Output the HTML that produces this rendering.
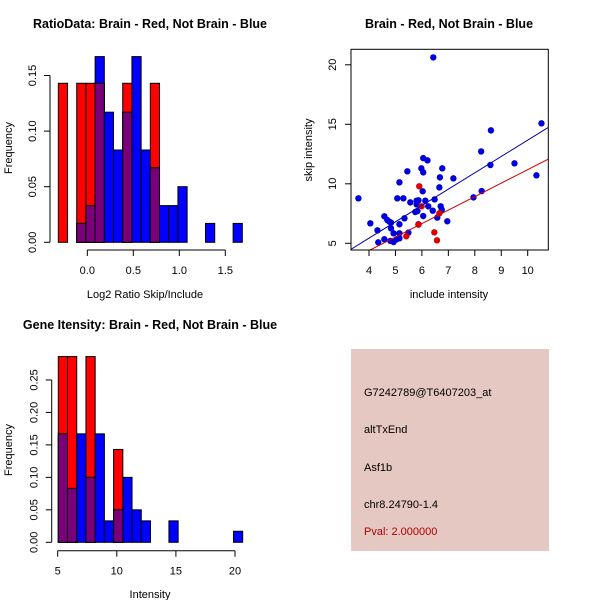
<!DOCTYPE html>
<html><head><meta charset="utf-8"><style>
body{margin:0;background:#fff}
svg{display:block;font-family:"Liberation Sans",sans-serif}
</style></head><body>
<svg id="c" width="600" height="600" xmlns="http://www.w3.org/2000/svg">
<rect width="600" height="600" fill="#fff"/>
<g id="p1"></g>
<g id="p2"></g>
<g id="p3"></g>
<g>
<rect x="351" y="349" width="198" height="202" fill="#e5c8c2"/>
<text x="364" y="396" font-size="11">G7242789@T6407203_at</text>
<text x="364" y="433" font-size="11">altTxEnd</text>
<text x="364" y="471" font-size="11">Asf1b</text>
<text x="364" y="508" font-size="11">chr8.24790-1.4</text>
<text x="364" y="535" font-size="11" fill="#b00000">Pval: 2.000000</text>
</g>
</svg>
<script>
// Ratio histogram data
const ratioStart = -0.315, ratioWidth = 0.1;
const ratioBlue = [0,0,0.017,0.033,0.167,0.117,0.083,0.117,0.167,0.083,0.067,0.033,0.033,0.05,0,0,0.017,0,0,0.017];
const ratioRed  = [0.143,0,0.143,0.143,0.143,0,0,0.143,0,0,0.143,0,0,0,0,0,0,0,0,0];
const ratioXTicks = [0.0,0.5,1.0,1.5];
const ratioYTicks = [0.00,0.05,0.10,0.15];
// Gene intensity histogram data
const intStart = 5.05, intWidth = 0.78;
const intBlue = [0.167,0.083,0.167,0.1,0.167,0.033,0.05,0.1,0.05,0.033,0,0,0.033,0,0,0,0,0,0,0.017];
const intRed  = [0.286,0.286,0,0.286,0,0,0.143,0,0,0,0,0,0,0,0,0,0,0,0,0];
const intXTicks = [5,10,15,20];
const intYTicks = [0.00,0.05,0.10,0.15,0.20,0.25];
// Scatter data
const blueX = [3.60,4.05,4.32,4.35,4.58,4.58,4.69,4.77,4.83,4.83,4.81,4.93,4.93,5.05,5.07,5.15,5.15,5.15,5.15,5.30,5.34,5.45,5.49,5.56,5.75,5.80,5.80,5.83,5.87,5.87,5.98,6.03,6.05,6.05,6.05,6.13,6.21,6.24,6.41,6.43,6.48,6.58,6.66,6.68,6.71,6.75,6.77,6.96,7.19,7.95,8.24,8.26,8.59,8.61,9.50,10.33,10.52];
const blueY = [8.78,6.68,6.09,5.08,7.27,5.34,6.96,6.82,6.74,6.26,5.20,5.84,5.11,5.34,8.78,10.12,6.60,5.84,5.42,8.78,7.10,11.05,5.90,8.44,7.63,8.58,8.27,7.71,8.61,6.60,11.30,9.37,12.16,10.96,7.29,8.58,11.97,8.11,7.74,20.62,8.69,7.16,9.70,10.54,8.11,7.83,11.30,6.85,10.46,8.86,12.72,9.39,11.58,14.49,11.72,10.71,15.08];
const redX = [5.90,5.99,5.87,5.41,6.47,6.57,6.66];
const redY = [9.79,8.11,6.57,5.59,5.92,5.25,7.52];
const blueFit = [-0.06,1.373]; // intercept, slope
const redFit = [-0.14,1.133];
const scXTicks = [4,5,6,7,8,9,10];
const scYTicks = [5,10,15,20];

const NS="http://www.w3.org/2000/svg";
function mk(parent,tag,attrs,text){const e=document.createElementNS(NS,tag);for(const k in attrs)e.setAttribute(k,attrs[k]);if(text!==undefined)e.textContent=text;parent.appendChild(e);return e;}

function histogram(g,o){
  const sx=v=>o.x0+(v-o.v0)*o.kx, sy=v=>o.y0-v*o.ky;
  for(let i=0;i<o.blue.length;i++){
    const a=o.start+i*o.width,b=a+o.width,r=o.red[i],bl=o.blue[i];
    const x=sx(a),w=sx(b)-sx(a);
    if(r>0){const e=mk(g,'rect',{x:x,y:sy(r),width:w,height:sy(0)-sy(r),fill:'#ff0000',stroke:'#000','stroke-width':1});
      
      }
    if(bl>0){const e=mk(g,'rect',{x:x,y:sy(bl),width:w,height:sy(0)-sy(bl),fill:'#0000ff',stroke:'#000','stroke-width':1});
      
      }
    const m=Math.min(r,bl);
    if(m>0){const e=mk(g,'rect',{x:x,y:sy(m),width:w,height:sy(0)-sy(m),fill:'#7a007a',stroke:'#000','stroke-width':1});
      
      }
  }
  const yt=o.yTicks;
  mk(g,'line',{x1:o.yAxisX,x2:o.yAxisX,y1:sy(yt[0]),y2:sy(yt[yt.length-1]),stroke:'#000'});
  yt.forEach(t=>{mk(g,'line',{x1:o.yAxisX-6,x2:o.yAxisX,y1:sy(t),y2:sy(t),stroke:'#000'});
    const e=mk(g,'text',{x:o.yAxisX-14,y:sy(t),'font-size':11,'text-anchor':'middle',transform:`rotate(-90 ${o.yAxisX-14} ${sy(t)})`},t.toFixed(2));
    
    });
  const xt=o.xTicks;
  mk(g,'line',{x1:sx(xt[0]),x2:sx(xt[xt.length-1]),y1:o.xAxisY,y2:o.xAxisY,stroke:'#000'});
  xt.forEach(t=>{mk(g,'line',{x1:sx(t),x2:sx(t),y1:o.xAxisY,y2:o.xAxisY+6,stroke:'#000'});
    const e=mk(g,'text',{x:sx(t),y:o.xAxisY+24,'font-size':11,'text-anchor':'middle'},o.fmt(t));
    
    });
  let e=mk(g,'text',{x:o.tx,y:o.ty,'font-size':12.5,'font-weight':'bold','text-anchor':'middle'},o.title);
  
  
  e=mk(g,'text',{x:o.xlx,y:o.xly,'font-size':11,'text-anchor':'middle'},o.xlab);
  
  
  e=mk(g,'text',{x:12,y:o.yly,'font-size':11,'text-anchor':'middle',transform:`rotate(-90 12 ${o.yly})`},'Frequency');
  
  
}

histogram(document.getElementById('p1'),{start:ratioStart,width:ratioWidth,blue:ratioBlue,red:ratioRed,
  x0:87.3,v0:0,kx:92,y0:242.3,ky:1112,yAxisX:50,xAxisY:250,xTicks:ratioXTicks,yTicks:ratioYTicks,
  fmt:t=>t.toFixed(1),title:'RatioData: Brain - Red, Not Brain - Blue',tx:150,ty:28,xlab:'Log2 Ratio Skip/Include',xlx:145,xly:298,yly:148});
histogram(document.getElementById('p3'),{start:intStart,width:intWidth,blue:intBlue,red:intRed,
  x0:57.7,v0:5,kx:11.82,y0:542.3,ky:649.4,yAxisX:51.7,xAxisY:550.7,xTicks:intXTicks,yTicks:intYTicks,
  fmt:t=>String(t),title:'Gene Itensity: Brain - Red, Not Brain - Blue',tx:150,ty:329,xlab:'Intensity',xlx:150,xly:598,yly:450});

(function(){
  const g=document.getElementById('p2');
  const L=351,R=548.3,T=49.3,B=250;
  const sx=v=>369+(v-4)*26.45, sy=v=>243.3-(v-5)*11.9;
  const cp=mk(g,'clipPath',{id:'scclip'});mk(cp,'rect',{x:L,y:T,width:R-L,height:B-T});
  blueX.forEach((x,i)=>{const e=mk(g,'circle',{cx:sx(x),cy:sy(blueY[i]),r:3.2,fill:'#0000dd'});
    
    });
  redX.forEach((x,i)=>{const e=mk(g,'circle',{cx:sx(x),cy:sy(redY[i]),r:3.2,fill:'#dd0000'});
    
    });
  const xa=3.3,xb=10.8;
  let e=mk(g,'line',{x1:sx(xa),y1:sy(blueFit[0]+blueFit[1]*xa),x2:sx(xb),y2:sy(blueFit[0]+blueFit[1]*xb),stroke:'#0000aa','clip-path':'url(#scclip)'});
  
  
  e=mk(g,'line',{x1:sx(xa),y1:sy(redFit[0]+redFit[1]*xa),x2:sx(xb),y2:sy(redFit[0]+redFit[1]*xb),stroke:'#cc0000','clip-path':'url(#scclip)'});
  
  
  mk(g,'rect',{x:L,y:T,width:R-L,height:B-T,fill:'none',stroke:'#000'});
  scXTicks.forEach(t=>{mk(g,'line',{x1:sx(t),x2:sx(t),y1:B,y2:B+6,stroke:'#000'});
    const e=mk(g,'text',{x:sx(t),y:B+24,'font-size':11,'text-anchor':'middle'},String(t));
    
    });
  scYTicks.forEach(t=>{mk(g,'line',{x1:L-6,x2:L,y1:sy(t),y2:sy(t),stroke:'#000'});
    const e=mk(g,'text',{x:L-15,y:sy(t),'font-size':11,'text-anchor':'middle',transform:`rotate(-90 ${L-15} ${sy(t)})`},String(t));
    
    });
  e=mk(g,'text',{x:449,y:28,'font-size':12.5,'font-weight':'bold','text-anchor':'middle'},'Brain - Red, Not Brain - Blue');
  
  
  e=mk(g,'text',{x:449,y:298,'font-size':11,'text-anchor':'middle'},'include intensity');
  
  
  e=mk(g,'text',{x:312,y:150,'font-size':11,'text-anchor':'middle',transform:'rotate(-90 312 150)'},'skip intensity');
  
  
})();
</script>
</body></html>
